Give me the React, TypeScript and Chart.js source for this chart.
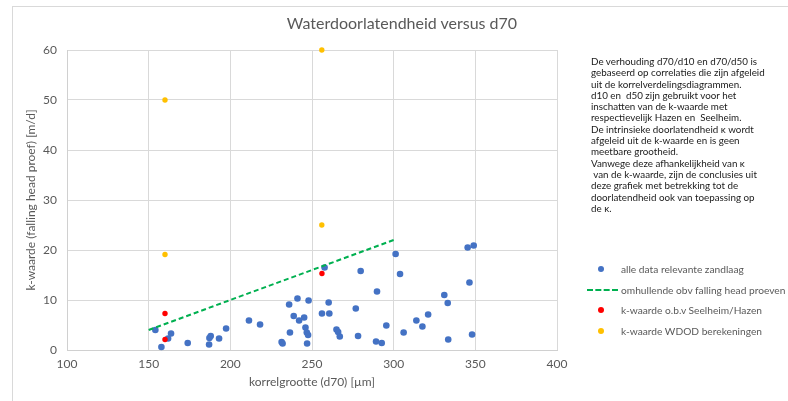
import React, { useEffect, useRef } from "react";
import { Chart, registerables } from "chart.js";

Chart.register(...registerables);

const chartTitle = "Waterdoorlatendheid versus d70";
const xAxisTitle = "korrelgrootte (d70) [µm]";
const yAxisTitle = "k-waarde (falling head proef) [m/d]";

const xMin = 100;
const xMax = 400;
const xStep = 50;
const yMin = 0;
const yMax = 60;
const yStep = 10;

const seriesNames = [
  "alle data relevante zandlaag",
  "omhullende obv falling head proeven",
  "k-waarde o.b.v Seelheim/Hazen",
  "k-waarde WDOD berekeningen",
];

const blueX = [
  154.1, 157.8, 161.9, 163.7, 173.9, 187, 187.2, 188, 193.1, 197.4, 211.4, 218.2,
  231.4, 232, 236, 236.5, 238.8, 241.1, 242.1, 245.2, 246, 246.8, 247.6, 247,
  247.9, 256.1, 257.7, 260.2, 260.6, 265, 266, 267, 276.8, 278.2, 279.8, 289.2,
  289.8, 292.7, 295.5, 301.2, 303.9, 306.1, 313.9, 317.6, 321.1, 331, 333.1,
  333.4, 345.3, 346.4, 348, 349,
];
const blueY = [
  4.0, 0.6, 2.3, 3.3, 1.4, 1.1, 2.4, 2.8, 2.3, 4.3, 5.9, 5.1,
  1.6, 1.3, 9.1, 3.5, 6.8, 10.3, 5.9, 6.5, 4.5, 3.5, 3.0, 1.3,
  9.9, 7.3, 16.5, 9.5, 7.3, 4.1, 3.6, 2.7, 8.3, 2.8, 15.8, 1.7,
  11.7, 1.4, 4.9, 19.2, 15.2, 3.5, 5.9, 4.7, 7.1, 11.0, 9.4,
  2.1, 20.5, 13.5, 3.1, 20.9,
];

const envelopeX = [150, 300];
const envelopeY = [4, 22];

const redX = [160, 160, 256.1];
const redY = [7.3, 2.1, 15.3];

const orangeX = [160, 160, 256, 256];
const orangeY = [50, 19.1, 60, 25];

const noteLines = [
  "De verhouding d70/d10 en d70/d50 is",
  "gebaseerd op correlaties die zijn afgeleid",
  "uit de korrelverdelingsdiagrammen.",
  "d10 en  d50 zijn gebruikt voor het",
  "inschatten van de k-waarde met",
  "respectievelijk Hazen en  Seelheim.",
  "De intrinsieke doorlatendheid κ wordt",
  "afgeleid uit de k-waarde en is geen",
  "meetbare grootheid.",
  "Vanwege deze afhankelijkheid van κ",
  " van de k-waarde, zijn de conclusies uit",
  "deze grafiek met betrekking tot de",
  "doorlatendheid ook van toepassing op",
  "de κ.",
];

const BLUE = "#4472C4";
const GREEN = "#00B050";
const RED = "#FF0000";
const ORANGE = "#FFC000";
const FONT = "Lato, 'Open Sans', sans-serif";

const pts = (xs: number[], ys: number[]) => xs.map((x, i) => ({ x, y: ys[i] }));

export default function App() {
  const ref = useRef<HTMLCanvasElement | null>(null);

  useEffect(() => {
    if (!ref.current) return;
    const chart = new Chart(ref.current, {
      type: "scatter",
      data: {
        datasets: [
          {
            label: seriesNames[0],
            data: pts(blueX, blueY),
            backgroundColor: BLUE,
            borderColor: BLUE,
            pointRadius: 3.3,
            borderWidth: 0,
            order: 4,
            clip: false,
          } as any,
          {
            label: seriesNames[1],
            type: "line",
            data: pts(envelopeX, envelopeY),
            borderColor: GREEN,
            borderWidth: 2,
            borderDash: [5, 3],
            pointRadius: 0,
            fill: false,
            order: 3,
          } as any,
          {
            label: seriesNames[2],
            data: pts(redX, redY),
            backgroundColor: RED,
            borderColor: RED,
            pointRadius: 2.7,
            borderWidth: 0,
            order: 2,
            clip: false,
          } as any,
          {
            label: seriesNames[3],
            data: pts(orangeX, orangeY),
            backgroundColor: ORANGE,
            borderColor: ORANGE,
            pointRadius: 2.7,
            borderWidth: 0,
            order: 1,
            clip: false,
          } as any,
        ],
      },
      options: {
        animation: false,
        responsive: false,
        devicePixelRatio: 1,
        layout: { padding: { left: 0, right: 231, top: 50, bottom: 0 } },
        plugins: {
          legend: { display: false },
          title: { display: false },
          tooltip: { enabled: false },
        },
        scales: {
          x: {
            type: "linear",
            min: xMin,
            max: xMax,
            afterFit: (s: any) => {
              s.height = 51;
            },
            ticks: {
              stepSize: xStep,
              color: "#595959",
              font: { family: FONT, size: 12 },
              padding: 7,
            },
            grid: { color: "#d9d9d9", drawTicks: false, lineWidth: 1 },
            border: { color: "#d0d0d0" },
            title: {
              display: true,
              text: xAxisTitle,
              color: "#595959",
              font: { family: FONT, size: 12 },
              padding: { top: 0, bottom: 12 },
            },
          },
          y: {
            type: "linear",
            min: yMin,
            max: yMax,
            afterFit: (s: any) => {
              s.width = 67;
            },
            ticks: {
              stepSize: yStep,
              color: "#595959",
              font: { family: FONT, size: 12 },
              padding: 10,
            },
            grid: { color: "#d9d9d9", drawTicks: false, lineWidth: 1 },
            border: { color: "#d0d0d0" },
            title: {
              display: true,
              text: yAxisTitle,
              color: "#595959",
              font: { family: FONT, size: 12 },
              padding: { top: 24, bottom: 0 },
            },
          },
        },
      },
    });
    return () => chart.destroy();
  }, []);

  return (
    <div
      style={{
        position: "fixed",
        left: 0,
        top: 0,
        width: 788,
        height: 401,
        overflow: "hidden",
        background: "#fff",
        fontFamily: FONT,
      }}
    >
      <div
        style={{
          position: "absolute",
          left: 12,
          top: 6,
          width: 820,
          height: 420,
          border: "1px solid #d9d9d9",
        }}
      />
      <canvas
        ref={ref}
        width={788}
        height={401}
        style={{ position: "absolute", left: 0, top: 0, width: 788, height: 401 }}
      />
      <div
        style={{
          position: "absolute",
          left: 0,
          width: 804,
          top: 13,
          textAlign: "center",
          fontSize: 16,
          color: "#595959",
          lineHeight: "20px",
          whiteSpace: "nowrap",
        }}
      >
        {chartTitle}
      </div>
      <div
        style={{
          position: "absolute",
          left: 591,
          top: 56,
          fontSize: 9.8,
          lineHeight: "11.3px",
          color: "#1a1a1a",
          whiteSpace: "pre",
        }}
      >
        {noteLines.map((l, i) => (
          <div key={i}>{l}</div>
        ))}
      </div>
      {[
        { y: 269, color: BLUE, kind: "dot" },
        { y: 289.5, color: GREEN, kind: "line" },
        { y: 310, color: RED, kind: "dot" },
        { y: 330.5, color: ORANGE, kind: "dot" },
      ].map((it, i) => (
        <React.Fragment key={i}>
          {it.kind === "dot" ? (
            <div
              style={{
                position: "absolute",
                left: 600.7 - 3,
                top: it.y - 3,
                width: 6,
                height: 6,
                borderRadius: 3,
                background: it.color,
              }}
            />
          ) : (
            <div
              style={{
                position: "absolute",
                left: 587,
                top: it.y - 1,
                width: 31,
                height: 0,
                borderTop: `2px dashed ${it.color}`,
              }}
            />
          )}
          <div
            style={{
              position: "absolute",
              left: 621,
              top: it.y - 7,
              fontSize: 10.2,
              lineHeight: "14px",
              color: "#595959",
              whiteSpace: "nowrap",
            }}
          >
            {seriesNames[i]}
          </div>
        </React.Fragment>
      ))}
    </div>
  );
}
